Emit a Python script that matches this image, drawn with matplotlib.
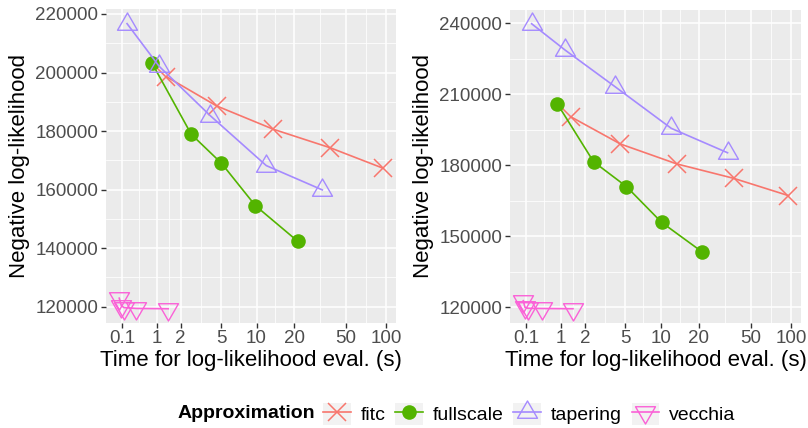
import matplotlib.pyplot as plt
import numpy as np
from matplotlib.lines import Line2D
from matplotlib.patches import Patch
from matplotlib.legend_handler import HandlerTuple
from matplotlib.path import Path

plt.rcParams['font.family'] = ['Liberation Sans', 'DejaVu Sans']

methods = ['fitc', 'fullscale', 'tapering', 'vecchia']
colors = ['#F8766D', '#53B400', '#A58AFF', '#FB61D7']

# left panel (time in s, negative log-likelihood)
left_time = {
    'fitc': [1.35, 4.55, 13.7, 37.8, 95],
    'fullscale': [0.84, 2.6, 5.04, 9.8, 21.2],
    'tapering': [0.2, 1.08, 4.0, 12.0, 32.9],
    'vecchia': [0.05, 0.09, 0.14, 0.41, 1.43],
}
left_nll = {
    'fitc': [198600, 188600, 180600, 174300, 167300],
    'fullscale': [203200, 178900, 169000, 154500, 142400],
    'tapering': [216700, 202100, 185200, 168200, 159900],
    'vecchia': [122900, 120300, 119700, 119400, 119300],
}
# right panel
right_time = {
    'fitc': [1.36, 4.5, 13.35, 36.9, 95.5],
    'fullscale': [0.88, 2.48, 5.1, 10.1, 21.3],
    'tapering': [0.21, 1.15, 4.05, 12.1, 33.2],
    'vecchia': [0.05, 0.08, 0.14, 0.44, 1.45],
}
right_nll = {
    'fitc': [200500, 189000, 180600, 174500, 167200],
    'fullscale': [205900, 181500, 171000, 155900, 143300],
    'tapering': [239800, 228600, 213100, 195600, 185300],
    'vecchia': [122800, 120000, 119600, 119500, 119400],
}

x_breaks = [0.1, 1, 2, 5, 10, 20, 50, 100]
x_labels = ['0.1', '1', '2', '5', '10', '20', '50', '100']
left_yticks = [120000, 140000, 160000, 180000, 200000, 220000]
right_yticks = [120000, 150000, 180000, 210000, 240000]

tri_up = Path([(0, 1), (-0.866, -0.5), (0.866, -0.5), (0, 1)],
              [Path.MOVETO, Path.LINETO, Path.LINETO, Path.CLOSEPOLY])
tri_down = Path([(0, -1), (-0.866, 0.5), (0.866, 0.5), (0, -1)],
                [Path.MOVETO, Path.LINETO, Path.LINETO, Path.CLOSEPOLY])

styles = {
    'fitc': dict(marker='x', ms=13, mew=1.1, mfc='none'),
    'fullscale': dict(marker='o', ms=10.5, mew=0),
    'tapering': dict(marker=tri_up, ms=16.6, mew=1.0, mfc='none'),
    'vecchia': dict(marker=tri_down, ms=16.6, mew=1.0, mfc='none'),
}

fig = plt.figure(figsize=(8.08, 4.28), dpi=100)
ax1 = fig.add_axes([106 / 808, 1 - 322.7 / 428, 290 / 808, 313.7 / 428])
ax2 = fig.add_axes([510 / 808, 1 - 322.7 / 428, 291 / 808, 312.7 / 428])


def draw(ax, times, nlls, yticks, ylim, xlim):
    ax.set_facecolor('#EBEBEB')
    ax.set_xscale('function', functions=(np.log1p, np.expm1))
    for m, c in zip(methods, colors):
        ax.plot(times[m], nlls[m], color=c, lw=1.2, mec=c, zorder=3, **styles[m])
    tb = np.log1p(x_breaks)
    minor_x = np.expm1((tb[:-1] + tb[1:]) / 2)
    ax.set_xticks(x_breaks)
    ax.set_xticklabels(x_labels)
    ax.set_xticks(minor_x, minor=True)
    ax.set_yticks(yticks)
    ax.set_yticklabels([str(v) for v in yticks])
    step = yticks[1] - yticks[0]
    ax.set_yticks(np.array(yticks[:-1]) + step / 2, minor=True)
    ax.set_xlim(*xlim)
    ax.set_ylim(*ylim)
    ax.grid(which='major', color='white', lw=1.1)
    ax.grid(which='minor', color='white', lw=0.55)
    ax.set_axisbelow(True)
    for s in ax.spines.values():
        s.set_visible(False)
    ax.tick_params(which='major', length=3.5, width=1.0, color='#333333',
                   labelsize=13.5, labelcolor='#4D4D4D', pad=2)
    ax.tick_params(which='minor', length=0)
    ax.set_xlabel('Time for log-likelihood eval. (s)', fontsize=16, labelpad=2)
    ax.set_ylabel('Negative log-likelihood', fontsize=16, labelpad=4)


xlim = (np.expm1(-0.178), np.expm1(4.785))
draw(ax1, left_time, left_nll, left_yticks, (114530, 221700), xlim)
draw(ax2, right_time, right_nll, right_yticks, (113500, 245600), xlim)

handles = []
for m, c in zip(methods, colors):
    key = Patch(facecolor='#F2F2F2', edgecolor='none')
    ln = Line2D([], [], color=c, lw=1.2, mec=c, **styles[m])
    handles.append((key, ln))

fig.text(178 / 808, 1 - 414 / 428, 'Approximation', fontsize=14,
         fontweight='bold', va='center', ha='left')
fig.legend(handles, methods, handler_map={tuple: HandlerTuple(ndivide=1, pad=0)},
           loc='center left', bbox_to_anchor=(323 / 808, 1 - 414 / 428),
           ncol=4, frameon=False, fontsize=14, borderpad=0, borderaxespad=0,
           handlelength=1.43, handleheight=1.41, handletextpad=0.52,
           columnspacing=0.48)

fig.savefig('out.png', dpi=100)
